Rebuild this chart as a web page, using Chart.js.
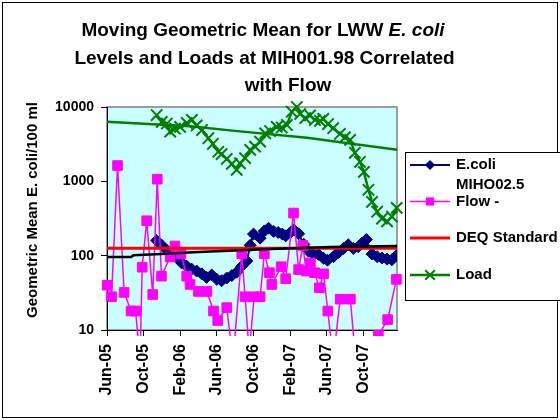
<!DOCTYPE html>
<html>
<head>
<meta charset="utf-8">
<script src="https://cdn.jsdelivr.net/npm/chart.js@4.4.1/dist/chart.umd.min.js"></script>
<style>
  html, body { margin: 0; padding: 0; background: #fff; }
  canvas { display: block; }
</style>
</head>
<body>
<canvas id="chart" width="560" height="420"></canvas>
<script>
const FONT = "'Liberation Sans', Arial, Helvetica, sans-serif";

// Moving geometric mean of E. coli (per 100 ml)
const ecoliDates = ['2005-11-13','2005-11-30','2005-12-17','2006-01-02','2006-01-19','2006-02-04','2006-02-21','2006-03-09','2006-03-26','2006-04-12',
  '2006-04-28','2006-05-15','2006-06-01','2006-06-17','2006-07-04','2006-07-21','2006-08-06','2006-08-23','2006-09-09','2006-09-20',
  '2006-10-01','2006-10-23','2006-11-06','2006-11-20','2006-12-07','2006-12-22','2007-01-05','2007-01-16','2007-02-01','2007-02-12',
  '2007-02-28','2007-03-17','2007-04-02','2007-04-19','2007-05-05','2007-05-22','2007-06-04','2007-06-24','2007-07-10','2007-07-27',
  '2007-08-12','2007-08-29','2007-09-14','2007-09-27','2007-10-11','2007-10-30','2007-11-16','2007-12-02','2007-12-19','2008-01-04',
  '2008-01-19'];
const ecoliValues = [160,138,118,104,95,80,72,66,62,57,
  51,55,48,46,50,54,60,72,85,138,
  195,172,215,234,212,205,195,185,205,222,
  197,142,115,103,104,92,87,97,110,125,
  140,125,132,148,165,105,97,93,90,88,
  100];

// Flow at MIHO02.5
const flowDates = ['2005-06-02','2005-06-16','2005-07-06','2005-07-28','2005-08-20','2005-09-04','2005-09-19','2005-09-26','2005-10-11','2005-10-31',
  '2005-11-15','2005-11-29','2005-12-28','2006-01-13','2006-02-02','2006-02-21','2006-03-04','2006-04-01','2006-04-29','2006-05-21',
  '2006-06-04','2006-07-04','2006-07-25','2006-08-23','2006-09-03','2006-09-17','2006-10-03','2006-10-23','2006-11-06','2006-11-23',
  '2006-12-01','2007-01-01','2007-01-16','2007-02-11','2007-02-28','2007-03-14','2007-03-25','2007-04-08','2007-04-22','2007-05-08',
  '2007-05-22','2007-06-05','2007-06-23','2007-07-16','2007-08-19','2007-09-08','2007-10-04','2007-10-28','2007-11-20','2007-12-21',
  '2008-01-19'];
const flowValues = [40,28,1630,32,18,18,4,70,295,30,
  1070,53,96,135,106,53,41,33,33,18,
  13.4,20,4,106,28,5,28,28,106,59,
  41,71,49,374,65,137,62,80,59,37,
  57,18,4,26,26,3,2,3,8.5,13.8,
  48];

// Load
const loadDates = ['2005-11-13','2005-11-30','2005-12-17','2005-12-28','2006-01-13','2006-01-30','2006-02-21','2006-03-10','2006-03-26','2006-04-13',
  '2006-05-04','2006-05-19','2006-06-06','2006-06-17','2006-07-04','2006-07-21','2006-08-06','2006-08-17','2006-09-03','2006-09-20',
  '2006-10-06','2006-10-23','2006-11-09','2006-11-25','2006-12-17','2007-01-03','2007-01-20','2007-02-05','2007-02-22','2007-03-05',
  '2007-03-22','2007-04-07','2007-04-23','2007-05-10','2007-05-21','2007-06-06','2007-06-23','2007-07-15','2007-08-01','2007-08-18',
  '2007-09-03','2007-09-20','2007-10-03','2007-10-18','2007-10-30','2007-11-16','2007-12-02','2007-12-19','2008-01-04','2008-01-20'];
const loadValues = [7800,6300,6000,4660,5100,5400,6100,6700,5650,4900,
  3800,3200,2500,2330,2000,1720,1430,1750,2050,2650,
  2930,3420,4420,4750,5400,5300,5730,8650,10000,8050,
  7100,7700,6700,6500,6900,5900,5180,4340,3900,3610,
  2420,1830,1340,770,530,390,315,290,335,440];

// DEQ geometric mean standard
const standardDates = ['2005-06-01','2008-01-21'];
const standardValues = [126,126];

// Trend lines
const loadTrendDates = ['2005-06-01','2006-03-04','2006-08-17','2007-03-28','2008-01-21'];
const loadTrendValues = [6350,5500,4700,3850,2650];
const ecoliTrendDates = ['2005-06-01','2005-08-20','2005-08-28','2005-12-15','2006-04-01','2006-08-20','2006-12-20','2007-06-15','2008-01-21'];
const ecoliTrendValues = [96,96,101,106,112,118,124,131,135];

// Axes
const axisStart = '2005-06-01';
const axisEnd = '2008-01-21';
const xTickDates = ['2005-06-01','2005-10-01','2006-02-01','2006-06-01','2006-10-01','2007-02-01','2007-06-01','2007-10-01'];
const xTickLabels = ['Jun-05','Oct-05','Feb-06','Jun-06','Oct-06','Feb-07','Jun-07','Oct-07'];
const yTickValues = [10,100,1000,10000];

const titleLines = [
  [{ text: 'Moving Geometric Mean for LWW ', italic: false }, { text: 'E. coli', italic: true }],
  [{ text: 'Levels and Loads at MIH001.98 Correlated', italic: false }],
  [{ text: 'with Flow', italic: false }]
];
const yTitle = 'Geometric Mean E. coli/100 ml';
const legendLabels = [['E.coli'], ['MIHO02.5', 'Flow -'], ['DEQ Standard'], ['Load']];

const DAY = 86400000;
const dayOf = s => (Date.parse(s) - Date.parse(axisStart)) / DAY;
const pts = (dates, values) => dates.map((d, i) => ({ x: dayOf(d), y: values[i] }));

function drawMarker(ctx, style, x, y, r, color, lw) {
  ctx.save();
  ctx.fillStyle = color; ctx.strokeStyle = color; ctx.lineWidth = lw;
  ctx.beginPath();
  if (style === 'rectRot') {
    ctx.moveTo(x, y - r); ctx.lineTo(x + r, y); ctx.lineTo(x, y + r); ctx.lineTo(x - r, y); ctx.closePath();
    ctx.fill();
  } else if (style === 'rect') {
    const h = r * Math.SQRT1_2;
    ctx.rect(x - h, y - h, 2 * h, 2 * h); ctx.fill();
  } else if (style === 'crossRot') {
    const h = r * Math.SQRT1_2;
    ctx.moveTo(x - h, y - h); ctx.lineTo(x + h, y + h);
    ctx.moveTo(x + h, y - h); ctx.lineTo(x - h, y + h);
    ctx.stroke();
  }
  ctx.restore();
}

const framePlugin = {
  id: 'frame',
  beforeDraw(chart) {
    const { ctx, chartArea: a } = chart;
    ctx.save();
    ctx.fillStyle = '#ffffff';
    ctx.fillRect(0, 0, chart.width, chart.height);
    // plot area
    ctx.fillStyle = '#CCFFFF';
    ctx.fillRect(a.left, a.top, a.right - a.left, a.bottom - a.top);
    ctx.strokeStyle = '#808080';
    ctx.lineWidth = 1.5;
    ctx.strokeRect(a.left, a.top, a.right - a.left, a.bottom - a.top);
    // outer border
    ctx.strokeStyle = '#000000';
    ctx.lineWidth = 1;
    ctx.strokeRect(2.5, 2.5, chart.width - 5, chart.height - 5);

    // title
    const centers = [263, 264.5, 288];
    const baselines = [36, 63.5, 91];
    ctx.fillStyle = '#000';
    ctx.textBaseline = 'alphabetic';
    ctx.textAlign = 'left';
    titleLines.forEach((parts, li) => {
      let total = 0;
      parts.forEach(p => {
        ctx.font = (p.italic ? 'italic ' : '') + 'bold 19px ' + FONT;
        p.w = ctx.measureText(p.text).width;
        total += p.w;
      });
      let x = centers[li] - total / 2;
      parts.forEach(p => {
        ctx.font = (p.italic ? 'italic ' : '') + 'bold 19px ' + FONT;
        ctx.fillText(p.text, x, baselines[li]);
        x += p.w;
      });
    });

    // y-axis title
    ctx.save();
    ctx.translate(33, 210);
    ctx.rotate(-Math.PI / 2);
    ctx.font = 'bold 15px ' + FONT;
    ctx.textAlign = 'center';
    ctx.textBaseline = 'middle';
    ctx.fillText(yTitle, 0, 0);
    ctx.restore();
    ctx.restore();
  },
  afterDraw(chart) {
    const { ctx } = chart;
    const ds = chart.data.datasets;
    ctx.save();
    ctx.fillStyle = '#ffffff';
    ctx.fillRect(405.5, 152.5, 170, 148);
    ctx.strokeStyle = '#000';
    ctx.lineWidth = 1;
    ctx.strokeRect(405.5, 152.5, 170, 148);
    const rowY = [165, 201.5, 238, 275];
    ctx.font = 'bold 15px ' + FONT;
    ctx.textAlign = 'left';
    ctx.textBaseline = 'middle';
    legendLabels.forEach((lines, i) => {
      const d = ds[i];
      const y = rowY[i];
      ctx.strokeStyle = d.borderColor;
      ctx.lineWidth = d.borderWidth;
      ctx.beginPath(); ctx.moveTo(410, y); ctx.lineTo(450, y); ctx.stroke();
      if (d.pointRadius > 0) drawMarker(ctx, d.pointStyle, 430, y, d.pointRadius * 0.85, d.borderColor, d.pointBorderWidth || 1);
      ctx.fillStyle = '#000';
      lines.forEach((t, k) => ctx.fillText(t, 456, y - (lines.length - 1 - k) * 17));
    });
    ctx.restore();
  }
};

new Chart(document.getElementById('chart'), {
  type: 'line',
  data: {
    datasets: [
      { label: 'E.coli', data: pts(ecoliDates, ecoliValues), borderColor: '#000080', backgroundColor: '#000080',
        borderWidth: 2, pointStyle: 'rectRot', pointRadius: 6, pointBorderWidth: 1, order: 6 },
      { label: 'Flow -', data: pts(flowDates, flowValues), borderColor: '#FF00FF', backgroundColor: '#FF00FF',
        borderWidth: 1.5, pointStyle: 'rect', pointRadius: 6.8, pointBorderWidth: 1, order: 5,
        clip: { left: 10, right: 10, top: 10, bottom: 6 } },
      { label: 'DEQ Standard', data: pts(standardDates, standardValues), borderColor: '#FF0000', backgroundColor: '#FF0000',
        borderWidth: 3, pointRadius: 0, order: 4 },
      { label: 'Load', data: pts(loadDates, loadValues), borderColor: '#008000', backgroundColor: '#008000',
        borderWidth: 2.5, pointStyle: 'crossRot', pointRadius: 8, pointBorderWidth: 2, order: 3,
        clip: { left: 10, right: 10, top: 10, bottom: 6 } },
      { label: 'E.coli trend', data: pts(ecoliTrendDates, ecoliTrendValues), borderColor: '#000000',
        borderWidth: 2.5, pointRadius: 0, order: 2 },
      { label: 'Load trend', data: pts(loadTrendDates, loadTrendValues), borderColor: '#008000',
        borderWidth: 2.5, pointRadius: 0, order: 1 }
    ]
  },
  options: {
    responsive: false,
    animation: false,
    devicePixelRatio: 1,
    events: [],
    layout: { padding: { left: 10, right: 163, top: 107, bottom: 0 } },
    plugins: { legend: { display: false }, tooltip: { enabled: false }, title: { display: false } },
    elements: { line: { tension: 0 } },
    scales: {
      x: {
        type: 'linear',
        min: 0,
        max: dayOf(axisEnd),
        afterBuildTicks: s => { s.ticks = xTickDates.map(d => ({ value: dayOf(d) })); },
        afterFit: s => { s.height = 90; },
        ticks: {
          autoSkip: false, minRotation: 90, maxRotation: 90, padding: 8, color: '#000',
          font: { family: FONT, size: 16, weight: 'bold' },
          callback: (v, i) => xTickLabels[i]
        },
        grid: { drawOnChartArea: false, drawTicks: true, tickLength: 6, color: '#000' },
        border: { color: '#000', width: 1 }
      },
      y: {
        type: 'logarithmic',
        min: 10,
        max: 10000,
        afterBuildTicks: s => { s.ticks = yTickValues.map(v => ({ value: v })); },
        afterFit: s => { s.width = 97; },
        ticks: {
          padding: 7, color: '#000',
          font: { family: FONT, size: 14, weight: 'bold' },
          callback: v => String(v)
        },
        grid: { drawOnChartArea: false, drawTicks: true, tickLength: 6, color: '#000' },
        border: { color: '#000', width: 1 }
      }
    }
  },
  plugins: [framePlugin]
});
</script>
</body>
</html>
